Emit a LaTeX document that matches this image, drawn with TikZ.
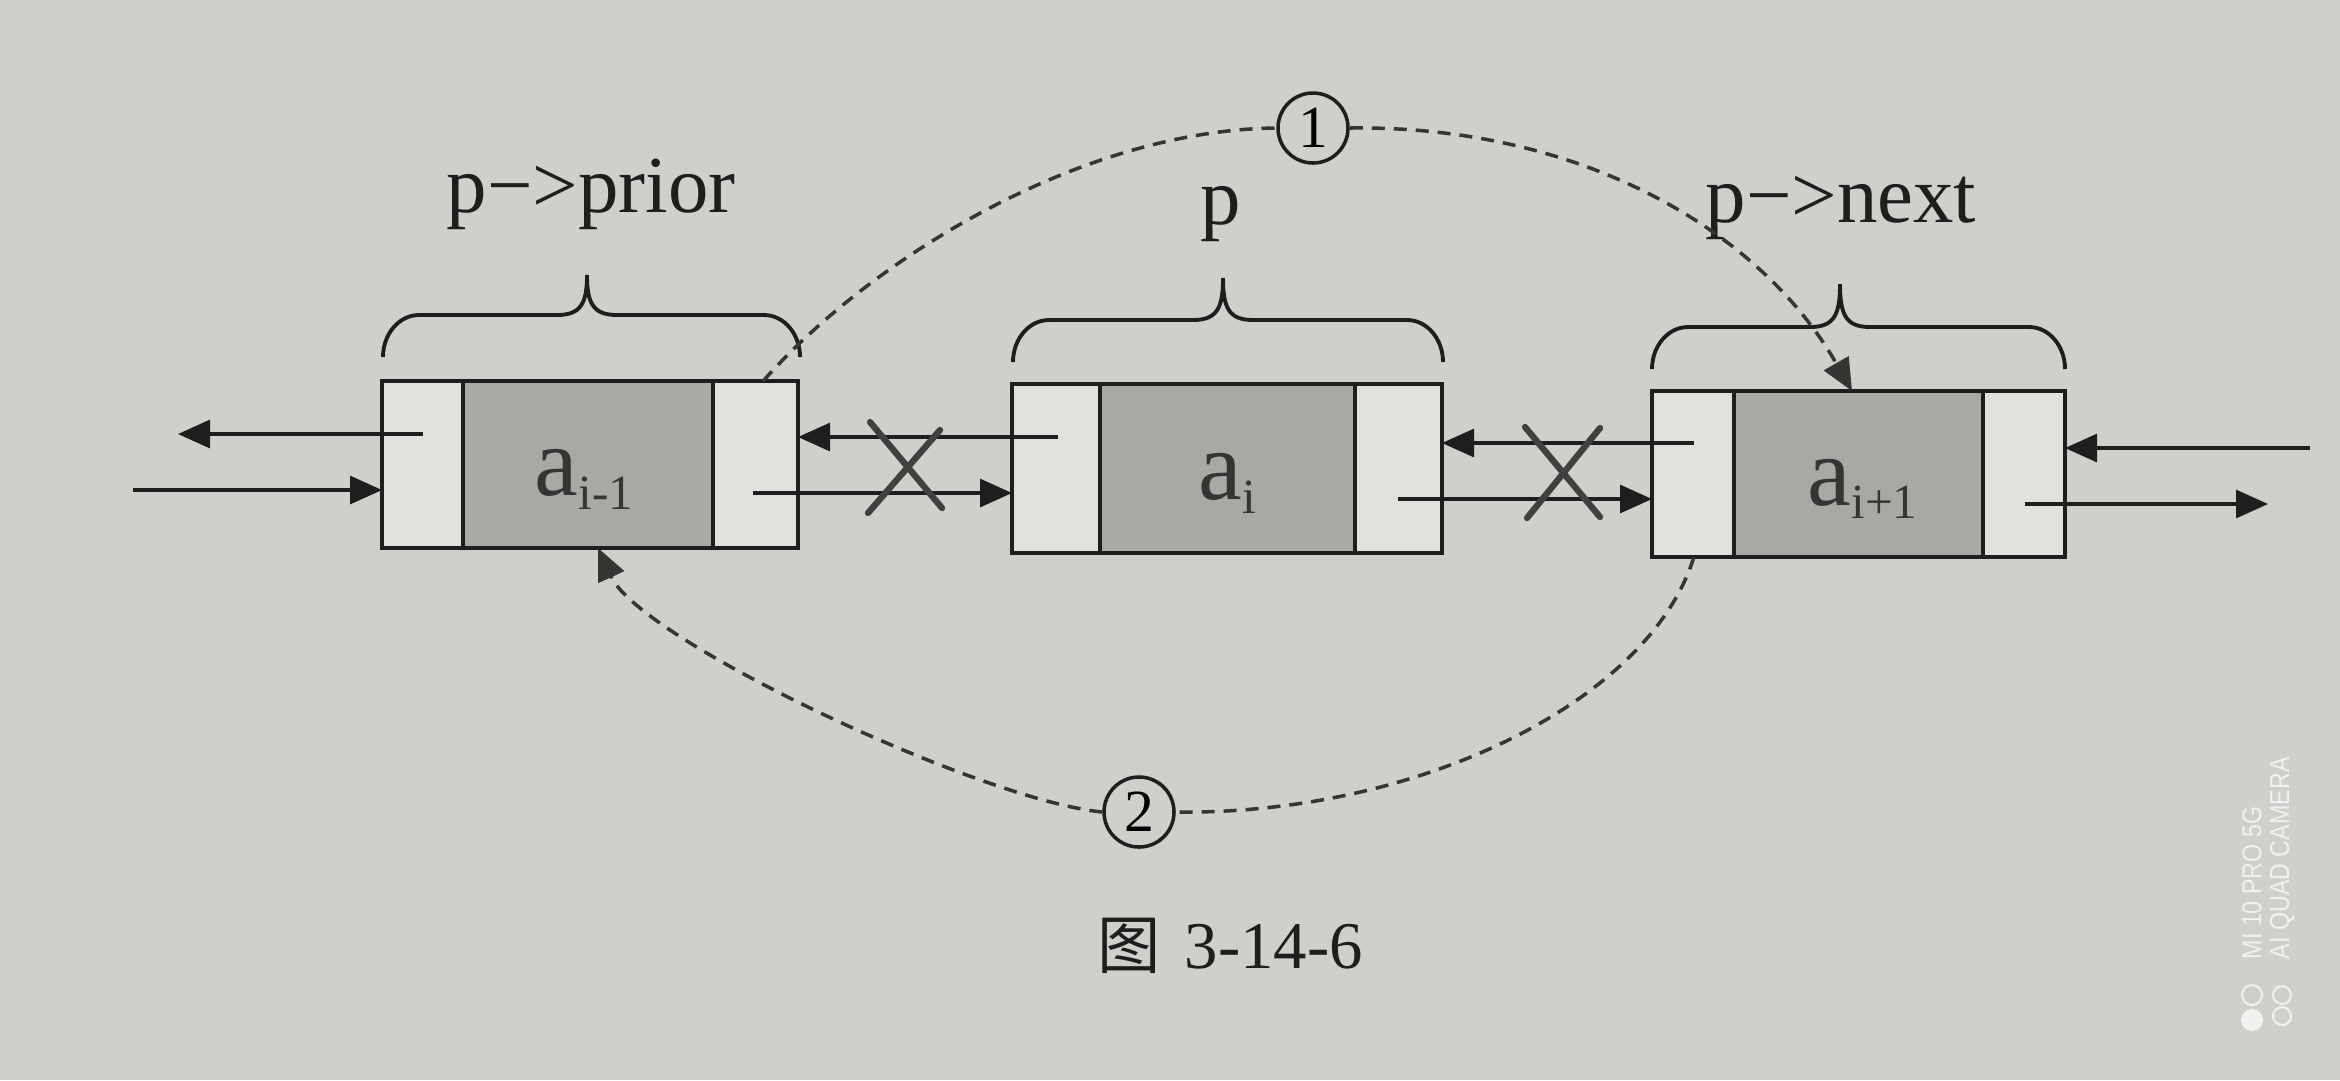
\documentclass[tikz,border=0pt]{standalone}
\usepackage{fontspec}
\setmainfont{Liberation Serif}
\newfontfamily\cjk{Noto Sans CJK SC}
\newfontfamily\wmfont{Liberation Sans}
\usetikzlibrary{arrows.meta,calc}
\definecolor{paper}{RGB}{207,207,203}
\definecolor{cellw}{RGB}{224,224,220}
\definecolor{cellg}{RGB}{168,168,165}
\definecolor{ink}{RGB}{30,30,30}
\definecolor{wm}{RGB}{240,240,240}
\newcommand{\dsbrace}[6]{% xL xR yb ys yt xm
  \draw[bracel] (#1,#3) .. controls (#1,#3-23) and (#1+16,#4) .. (#1+36,#4)
    -- (#6-30,#4) .. controls (#6-6,#4) and (#6,#4-12) .. (#6,#5)
    .. controls (#6,#4-12) and (#6+6,#4) .. (#6+30,#4)
    -- (#2-36,#4) .. controls (#2-16,#4) and (#2,#3-23) .. (#2,#3);}
\begin{document}
\begin{tikzpicture}[x=0.1mm, y=-0.1mm,
  cellbox/.style={draw=ink, line width=1.3pt, inner sep=0pt, outer sep=0pt, anchor=north west},
  ptr/.style={cellbox, fill=cellw},
  dat/.style={cellbox, fill=cellg},
  link/.style={draw=ink, line width=0.9pt, -{Triangle[length=3.2mm,width=2.8mm]}},
  lbl/.style={font=\fontsize{23pt}{23pt}\selectfont, text=ink, inner sep=0pt, anchor=base},
  datatext/.style={font=\fontsize{28pt}{28pt}\selectfont, text=ink!90, inner sep=0pt, anchor=base},
  bracel/.style={draw=ink, line width=1.1pt},
  dashc/.style={draw=ink!90, line width=1pt, dash pattern=on 1.3mm off 0.9mm},
  circnum/.style={circle, draw=ink, line width=1pt, minimum size=7mm, inner sep=0pt, font=\fontsize{17pt}{17pt}\selectfont},
  xmark/.style={draw=ink!85, line width=1.8pt, line cap=round},
  wmtext/.style={rotate=90, anchor=west, inner sep=0pt, text=wm, font=\wmfont\fontsize{7.8pt}{7.8pt}\selectfont},
]
\fill[paper] (0,0) rectangle (2340,1080);
\useasboundingbox (0,0) rectangle (2340,1080);

% ---- node 1
\node[ptr, minimum width=8.1mm, minimum height=16.7mm] (n1l) at (382,381) {};
\node[dat, minimum width=25mm,  minimum height=16.7mm] (n1m) at (463,381) {};
\node[ptr, minimum width=8.5mm, minimum height=16.7mm] (n1r) at (713,381) {};
% ---- node 2
\node[ptr, minimum width=8.8mm, minimum height=16.9mm] (n2l) at (1012,384) {};
\node[dat, minimum width=25.5mm,minimum height=16.9mm] (n2m) at (1100,384) {};
\node[ptr, minimum width=8.7mm, minimum height=16.9mm] (n2r) at (1355,384) {};
% ---- node 3
\node[ptr, minimum width=8.2mm, minimum height=16.6mm] (n3l) at (1652,391) {};
\node[dat, minimum width=24.9mm,minimum height=16.6mm] (n3m) at (1734,391) {};
\node[ptr, minimum width=8.2mm, minimum height=16.6mm] (n3r) at (1983,391) {};

% ---- data texts
\node[datatext] (t1) at ($(n1m.center)+(-4,31)$) {a\raisebox{-0.3ex}{\fontsize{14pt}{14pt}\selectfont i-1}};
\node[datatext] (t2) at ($(n2m.center)+(0,31)$) {a\raisebox{-0.3ex}{\fontsize{14pt}{14pt}\selectfont i}};
\node[datatext] (t3) at ($(n3m.center)+(4,31)$) {a\raisebox{-0.3ex}{\fontsize{14pt}{14pt}\selectfont i+1}};

% ---- braces and labels
\dsbrace{383}{800}{357}{315}{275}{587}
\dsbrace{1013}{1443}{362}{320}{278}{1223}
\dsbrace{1652}{2065}{369}{327}{284}{1840}
\node[lbl] (lprior) at (591,212) {p−>prior};
\node[lbl] (lp) at (1221,224) {p};
\node[lbl] (lnext) at (1841,222) {p−>next};

% ---- free ends of the links
\coordinate (e1) at (178,434);
\coordinate (s1) at (423,434);
\coordinate (s2) at (133,490);
\coordinate (s3) at (1058,437);
\coordinate (s4) at (753,493);
\coordinate (s5) at (1694,443);
\coordinate (s6) at (1398,499);
\coordinate (s7) at (2310,448);
\coordinate (s8) at (2025,504);
\coordinate (e8) at (2268,504);

\draw[link] (s1) -- (e1);
\draw[link] (s2) -- (s2 -| n1l.west);
\draw[link] (s3) -- (s3 -| n1r.east);
\draw[link] (s4) -- (s4 -| n2l.west);
\draw[link] (s5) -- (s5 -| n2r.east);
\draw[link] (s6) -- (s6 -| n3l.west);
\draw[link] (s7) -- (s7 -| n3r.east);
\draw[link] (s8) -- (e8);

% ---- crossed-out links
\draw[xmark] (870,422) -- (942,508);
\draw[xmark] (940,430) -- (868,513);
\draw[xmark] (1525,427) -- (1600,517);
\draw[xmark] (1600,428) -- (1527,518);

% ---- dashed new links
\node[circnum] (c1) at (1313,128) {1};
\node[circnum] (c2) at (1139,812) {2};
\draw[dashc] ($(n1r.north west)!0.59!(n1r.north east)$) .. controls (870,260) and (1080,130) .. (c1.west);
\draw[dashc, -{Triangle[length=3.2mm,width=2.8mm]}] (c1.east) .. controls (1580,125) and (1760,230) .. ($(n3m.north west)!0.474!(n3m.north east)$);
\draw[dashc] ($(n3l.south west)!0.51!(n3l.south east)$) .. controls (1650,700) and (1420,815) .. (c2.east);
\draw[dashc, -{Triangle[length=3.2mm,width=2.8mm]}] (c2.west) .. controls (980,800) and (640,640) .. ($(n1m.south west)!0.54!(n1m.south east)$);

% ---- caption
\node[anchor=base west, inner sep=0pt, text=ink, font=\fontsize{19pt}{19pt}\selectfont] (cap) at (1097,968) {{\cjk\fontsize{18pt}{18pt}\selectfont 图}\hspace{2pt} 3-14-6};

% ---- camera watermark
\node[wmtext] (wm1) at (2252,960) {\scalebox{0.85}[1]{MI 10 PRO 5G}};
\node[wmtext] (wm2) at (2282,960) {\scalebox{0.85}[1]{AI QUAD CAMERA}};
\fill[wm] (2252,1020) circle[radius=11];
\draw[wm, line width=0.6pt] (2252,995) circle[radius=10];
\draw[wm, line width=0.6pt] (2282,995) circle[radius=9];
\draw[wm, line width=0.6pt] (2282,1016) circle[radius=9];
\end{tikzpicture}
\end{document}
